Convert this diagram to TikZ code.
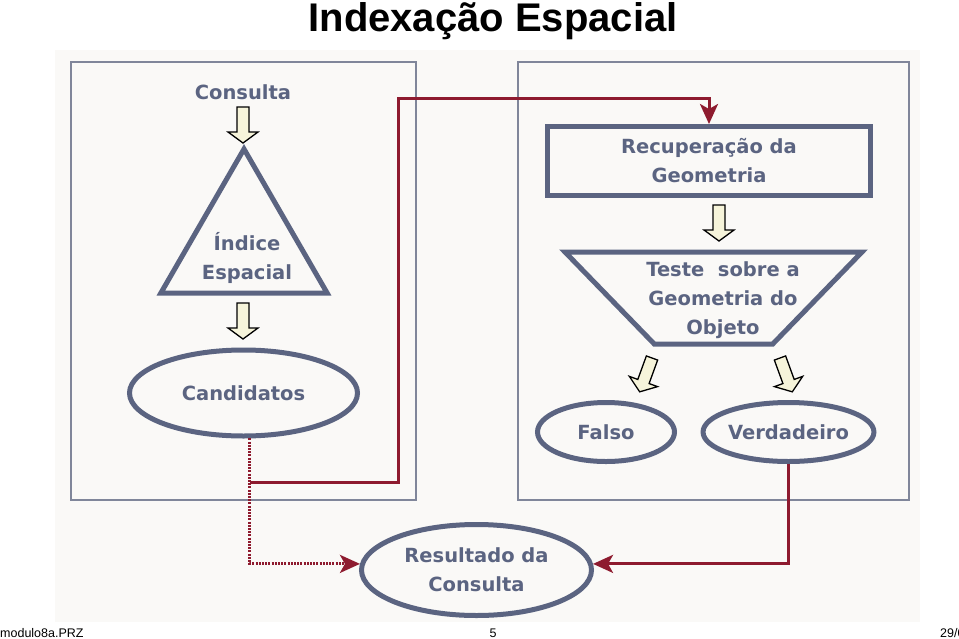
\documentclass[tikz,border=0pt]{standalone}
\usepackage{fontspec}
\setmainfont{Liberation Sans}
\newfontfamily\boxfont{DejaVu Sans}
\usetikzlibrary{shapes.geometric,arrows.meta,calc}
\definecolor{panelbg}{HTML}{FAF9F7}
\definecolor{framegray}{HTML}{80869A}
\definecolor{slate}{HTML}{5B6481}
\definecolor{wine}{HTML}{8E1B2F}
\definecolor{cream}{HTML}{F6F4DA}
\tikzset{>={Stealth[length=20pt,width=18pt,inset=5pt]},
  caption/.style={text=slate, font=\boxfont\bfseries\fontsize{19.5}{29}\selectfont, align=center, inner sep=0pt},
  figure/.style={caption, draw=slate, line width=5pt, fill=panelbg},
  frame/.style={draw=framegray, line width=1.2pt},
  link/.style={draw=wine, line width=3pt},
  dotlink/.style={link, dash pattern=on 2pt off 1.2pt},
  blockarrow/.pic={\draw[fill=cream, draw=black, line width=1.3pt]
    (-6,0) -- (-6,-25) -- (-15,-25) -- (0,-36) -- (15,-25) -- (6,-25) -- (6,0) -- cycle;}
}

\begin{document}
\begin{tikzpicture}[x=1pt, y=1pt]
    \useasboundingbox[fill=white] (0,0) rectangle (959,-638);
    \fill[panelbg] (55,-50) rectangle (920,-622);
    \node[anchor=base, font=\bfseries\fontsize{40}{40}\selectfont] (title) at (493,-31) {Indexação Espacial};
    % two frames
    \draw[frame] (71,-62) rectangle (416,-500);
    \draw[frame] (518,-62) rectangle (909,-500);
    % left side
    \node[caption] (consulta) at (243,-92) {Consulta};
    \pic at (243,-107) {blockarrow};
    \node[figure, regular polygon, regular polygon sides=3, minimum size=192pt] (indice) at (244,-245) {};
    \node[caption] (indicetext) at (247,-258) {Índice\\Espacial};
    \pic at (243,-303) {blockarrow};
    \node[figure, ellipse, minimum width=228pt, minimum height=86pt] (candidatos) at (243.5,-393) {Candidatos};
    % right side
    \node[figure, rectangle, minimum width=323pt, minimum height=69pt] (recuperacao) at (709,-161) {Recuperação da\\Geometria};
    \pic at (719,-205) {blockarrow};
    \node[figure, trapezium, shape border rotate=180, trapezium stretches=true, inner sep=2pt,
          trapezium left angle=53, trapezium right angle=53,
          minimum width=297pt, minimum height=92pt] (teste) at (713.5,-298) {};
    \node[caption] (testetext) at (723,-300) {Teste\ \ sobre a\\Geometria do\\Objeto};
    \pic[rotate=-20] at (652,-358) {blockarrow};
    \pic[rotate=20] at (780,-358) {blockarrow};
    \node[figure, ellipse, minimum width=137pt, minimum height=59pt] (falso) at (606,-432) {Falso};
    \node[figure, ellipse, minimum width=166pt, minimum height=59pt] (verdadeiro) at (788.5,-432) {Verdadeiro};
    % result
    \node[figure, ellipse, minimum width=230pt, minimum height=91pt] (resultado) at (476.5,-570) {Resultado da\\Consulta};
    % connectors
    \coordinate (level) at (0,-482);
    \coordinate (split) at (candidatos.-82 |- level);
    \coordinate (bend) at (398,-98);
    \draw[dotlink,->] (candidatos.-82) |- (resultado.177);
    \draw[link,->] (split) -| (bend) -| (recuperacao.north);
    \draw[link,->] (verdadeiro.south) |- (resultado.3);
    % footer
    \node[anchor=base west, inner sep=0pt, font=\fontsize{12.5}{13}\selectfont] (arquivo) at (0,-637) {modulo8a.PRZ};
    \node[anchor=base, inner sep=0pt, font=\fontsize{12.5}{13}\selectfont] (pagina) at (493,-637) {5};
    \node[anchor=base west, inner sep=0pt, font=\fontsize{12.5}{13}\selectfont] (data) at (940,-637) {29/0};
\end{tikzpicture}
\end{document}
